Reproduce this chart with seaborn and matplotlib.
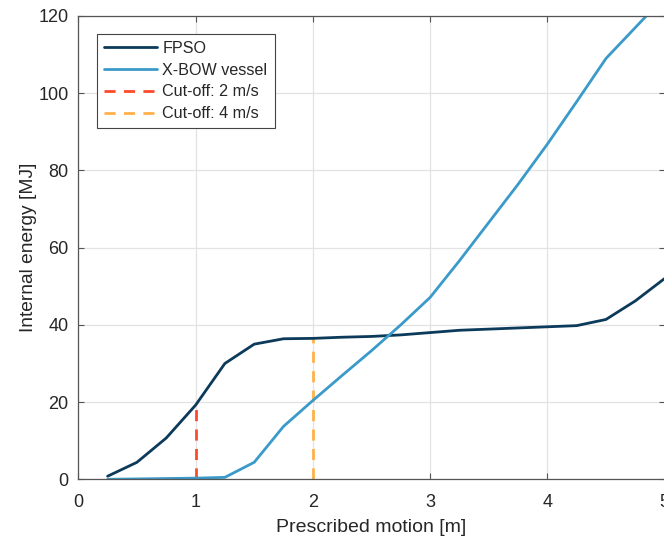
import numpy as np
import pandas as pd
import matplotlib
matplotlib.use("Agg")
import matplotlib.pyplot as plt
import seaborn as sns
from matplotlib.lines import Line2D

# Prescribed motion amplitude [m]
motion = [0.25, 0.5, 0.75, 1.0, 1.25, 1.5, 1.75, 2.0, 2.25, 2.5, 2.75,
          3.0, 3.25, 3.5, 3.75, 4.0, 4.25, 4.5, 4.75, 5.0]
# Internal energy [MJ]
fpso = [0.8, 4.4, 10.7, 19.2, 30.0, 35.0, 36.4, 36.5, 36.8, 37.0, 37.4,
        38.0, 38.6, 38.9, 39.2, 39.5, 39.8, 41.4, 46.2, 52.0]
xbow = [0.0, 0.1, 0.2, 0.3, 0.5, 4.4, 13.7, 20.4, 26.9, 33.3, 40.0,
        47.1, 56.6, 66.5, 76.4, 86.8, 97.8, 109.0, 117.0, 125.0]

cut_x = [1.0, 2.0]
cut_labels = ["Cut-off: 2 m/s", "Cut-off: 4 m/s"]

c_fpso = "#0b3a5a"
c_xbow = "#3a9ac9"
c_cut = ["#ff4a2a", "#ffb04a"]

sns.set_theme(style="whitegrid")
plt.rcParams["font.family"] = ["Liberation Sans", "DejaVu Sans"]

df = pd.DataFrame({
    "motion": motion * 2,
    "energy": fpso + xbow,
    "vessel": ["FPSO"] * len(motion) + ["X-BOW vessel"] * len(motion),
})

fig = plt.figure(figsize=(6.64, 5.38), dpi=100)
ax = fig.add_axes([78.3 / 664, 58.7 / 538, 586.3 / 664, 463.3 / 538])

sns.lineplot(data=df, x="motion", y="energy", hue="vessel",
             palette={"FPSO": c_fpso, "X-BOW vessel": c_xbow},
             linewidth=2.0, ax=ax, legend=False)

# Cut-off markers: dashed verticals up to the FPSO curve
fpso_at = dict(zip(motion, fpso))
for xv, col in zip(cut_x, c_cut):
    ax.plot([xv, xv], [0, fpso_at[xv]], color=col, linestyle=(0, (4, 3)),
            linewidth=2.0, zorder=1)

ax.set_xlim(0, 5)
ax.set_ylim(0, 120)
ax.set_xticks([0, 1, 2, 3, 4, 5])
ax.set_yticks([0, 20, 40, 60, 80, 100, 120])
ax.grid(True, color="#e3e3e3", linewidth=0.9)
for s in ax.spines.values():
    s.set_color("#555555")
    s.set_linewidth(0.9)
    s.set_visible(True)
ax.tick_params(direction="in", length=4, width=0.8, color="#555555",
               labelsize=13, labelcolor="#262626", top=True, right=True,
               bottom=True, left=True, pad=7)
ax.tick_params(axis="x", pad=10.5)
ax.set_xlabel("Prescribed motion [m]", fontsize=14, color="#262626", labelpad=6)
ax.set_ylabel("Internal energy [MJ]", fontsize=13.8, color="#262626", labelpad=1)
ax.set_facecolor("white")

handles = [
    Line2D([], [], color=c_fpso, lw=2.0),
    Line2D([], [], color=c_xbow, lw=2.0),
    Line2D([], [], color=c_cut[0], lw=2.0, linestyle=(0, (4, 3))),
    Line2D([], [], color=c_cut[1], lw=2.0, linestyle=(0, (4, 3))),
]
labels = ["FPSO", "X-BOW vessel"] + cut_labels
leg = ax.legend(handles, labels, loc="upper left", bbox_to_anchor=(0.032, 0.962),
                fontsize=11.6, frameon=True, fancybox=False, handlelength=3.3,
                handletextpad=0.3, borderpad=0.45, labelspacing=0.42,
                borderaxespad=0)
leg.get_frame().set_edgecolor("#444444")
leg.get_frame().set_linewidth(0.8)
leg.get_frame().set_alpha(1)

fig.savefig("out.png", dpi=100, facecolor="white")
